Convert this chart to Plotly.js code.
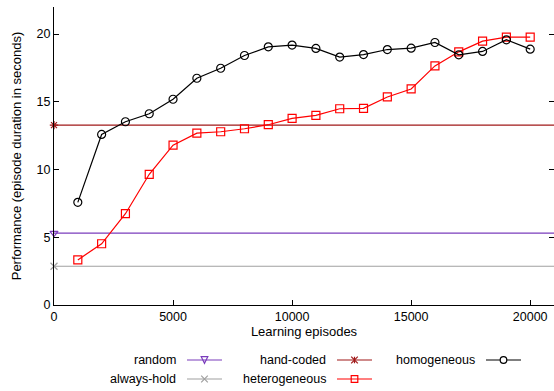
<!DOCTYPE html>
<html>
<head>
<meta charset="utf-8">
<script src="https://cdn.plot.ly/plotly-3.0.1.min.js"></script>
<style>html,body{margin:0;padding:0;background:#fff}#chart{width:554px;height:391px}</style>
</head>
<body>
<div id="chart"></div>
<script>
// ---- data ----
const episodes = [1000,2000,3000,4000,5000,6000,7000,8000,9000,10000,11000,12000,13000,14000,15000,16000,17000,18000,19000,20000];
const homogeneous = [7.58,12.59,13.53,14.12,15.19,16.74,17.48,18.42,19.06,19.19,18.94,18.30,18.49,18.86,18.96,19.38,18.47,18.72,19.58,18.89];
const heterogeneous = [3.33,4.52,6.74,9.65,11.80,12.69,12.79,13.01,13.31,13.78,14.00,14.49,14.52,15.36,15.95,17.65,18.69,19.48,19.78,19.78];
const baselineNames = ["random","always-hold","hand-coded"];
const baselineValues = [5.31, 2.86, 13.28];
const xTicks = [0,5000,10000,15000,20000];
const yTicks = [0,5,10,15,20];

// ---- style ----
const FONT = "Liberation Sans, Arial, sans-serif";
const XMAX = 21000, YMAX = 22;
const styles = {
  "random": {color:"#7a3cbc", symbol:"triangle-down-open"},
  "always-hold": {color:"#a0a0a0", symbol:"x-thin-open"},
  "hand-coded": {color:"#a01818", symbol:"asterisk-open"},
  "heterogeneous": {color:"#ff0000", symbol:"square-open"},
  "homogeneous": {color:"#000000", symbol:"circle-open"}
};

const traces = [];
baselineNames.forEach((n,i)=>{
  const s = styles[n];
  traces.push({x:[0,XMAX], y:[baselineValues[i],baselineValues[i]], mode:"lines",
    line:{color:s.color,width:1.2}, showlegend:false, hoverinfo:"skip"});
  traces.push({x:[0], y:[baselineValues[i]], mode:"markers", cliponaxis:false,
    marker:{symbol:s.symbol,size:7,color:s.color,line:{color:s.color,width:1.2}}, showlegend:false});
});
[["heterogeneous",heterogeneous],["homogeneous",homogeneous]].forEach(([n,v])=>{
  const s = styles[n];
  traces.push({x:episodes, y:v, mode:"lines+markers", cliponaxis:false,
    line:{color:s.color,width:1.2},
    marker:{symbol:s.symbol,size:8,color:s.color,line:{color:s.color,width:1.2}}, showlegend:false});
});

// ---- manual gnuplot-style legend ----
const L=54, T=7, W=500, H=298;
const px2x = p => (p-L)/W, py2y = p => (T+H-p)/H;
const legendItems = [
  {n:"random", tx:178, ty:360}, {n:"always-hold", tx:178, ty:379},
  {n:"hand-coded", tx:328, ty:360}, {n:"heterogeneous", tx:328, ty:379},
  {n:"homogeneous", tx:477, ty:360}
];
const annotations = [], shapes = [];
legendItems.forEach(it=>{
  const s = styles[it.n];
  annotations.push({xref:"paper", yref:"paper", x:px2x(it.tx), y:py2y(it.ty), xanchor:"right", yanchor:"middle",
    text:it.n, showarrow:false, font:{family:FONT,size:12.5,color:"#000"}});
  const x0 = it.tx+9, x1 = it.tx+44, cx = (x0+x1)/2, cy = it.ty;
  shapes.push({type:"line", xref:"paper", yref:"paper", x0:px2x(x0), x1:px2x(x1), y0:py2y(cy), y1:py2y(cy),
    line:{color:s.color,width:1.2}});
  const r = 3.3;
  const ln = {color:s.color,width:1.2};
  if (s.symbol.startsWith("circle")) {
    shapes.push({type:"circle", xref:"paper", yref:"paper", x0:px2x(cx-r), x1:px2x(cx+r), y0:py2y(cy+r), y1:py2y(cy-r), line:ln, fillcolor:"#fff"});
  } else if (s.symbol.startsWith("square")) {
    shapes.push({type:"rect", xref:"paper", yref:"paper", x0:px2x(cx-r), x1:px2x(cx+r), y0:py2y(cy+r), y1:py2y(cy-r), line:ln, fillcolor:"rgba(0,0,0,0)"});
  } else if (s.symbol.startsWith("triangle-down")) {
    shapes.push({type:"path", xref:"paper", yref:"paper",
      path:`M ${px2x(cx-r)} ${py2y(cy-r)} L ${px2x(cx+r)} ${py2y(cy-r)} L ${px2x(cx)} ${py2y(cy+r)} Z`, line:ln});
  } else if (s.symbol.startsWith("x")) {
    shapes.push({type:"path", xref:"paper", yref:"paper",
      path:`M ${px2x(cx-r)} ${py2y(cy-r)} L ${px2x(cx+r)} ${py2y(cy+r)} M ${px2x(cx-r)} ${py2y(cy+r)} L ${px2x(cx+r)} ${py2y(cy-r)}`, line:ln});
  } else if (s.symbol.startsWith("asterisk")) {
    shapes.push({type:"path", xref:"paper", yref:"paper",
      path:`M ${px2x(cx-r)} ${py2y(cy-r)} L ${px2x(cx+r)} ${py2y(cy+r)} M ${px2x(cx-r)} ${py2y(cy+r)} L ${px2x(cx+r)} ${py2y(cy-r)} M ${px2x(cx)} ${py2y(cy-r)} L ${px2x(cx)} ${py2y(cy+r)}`, line:ln});
  }
});

const layout = {
  width:554, height:391,
  margin:{l:L, r:0, t:T, b:391-T-H, pad:0},
  paper_bgcolor:"#fff", plot_bgcolor:"#fff",
  font:{family:FONT, size:12, color:"#000"},
  showlegend:false,
  xaxis:{range:[0,XMAX], tickvals:xTicks, ticktext:xTicks.map(String), ticks:"inside", ticklen:5, tickcolor:"#000",
    showline:true, linecolor:"#000", linewidth:1, showgrid:false, zeroline:false, mirror:false,
    tickfont:{family:FONT,size:12.5}, title:{text:"Learning episodes", font:{family:FONT,size:13}, standoff:3}},
  yaxis:{range:[0,YMAX], tickvals:yTicks, ticktext:yTicks.map(String), ticks:"inside", ticklen:5, tickcolor:"#000",
    showline:true, linecolor:"#000", linewidth:1, showgrid:false, zeroline:false, mirror:"ticks",
    tickfont:{family:FONT,size:12.5}, title:{text:"Performance (episode duration in seconds)", font:{family:FONT,size:13}, standoff:12}},
  annotations, shapes
};
Plotly.newPlot("chart", traces, layout, {staticPlot:true, displayModeBar:false});
</script>
</body>
</html>
